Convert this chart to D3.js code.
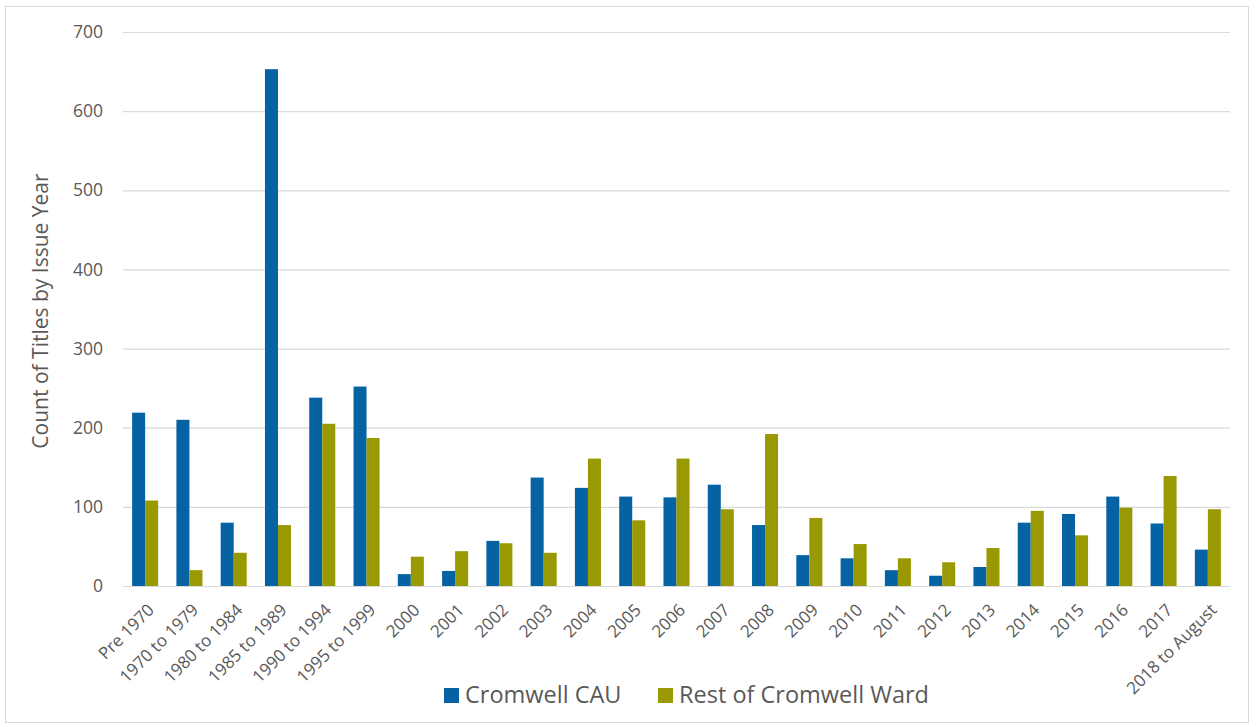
<!DOCTYPE html>
<html>
<head>
<meta charset="utf-8">
<script src="https://cdn.jsdelivr.net/npm/d3@7"></script>
<style>
  html, body { margin: 0; padding: 0; background: #fff; }
  svg { display: block; font-family: "Open Sans", "Noto Sans", sans-serif; }
</style>
</head>
<body>
<svg id="chart" width="1256" height="727"></svg>
<script>
// Issue-year groups
const categories = [
  "Pre 1970", "1970 to 1979", "1980 to 1984", "1985 to 1989", "1990 to 1994",
  "1995 to 1999", "2000", "2001", "2002", "2003", "2004", "2005", "2006",
  "2007", "2008", "2009", "2010", "2011", "2012", "2013", "2014", "2015",
  "2016", "2017", "2018 to August"
];

const seriesNames = ["Cromwell CAU", "Rest of Cromwell Ward"];

const cromwellCAU = [
  219, 210, 80, 653, 238, 252, 15, 19, 57, 137, 124, 113, 112,
  128, 77, 39, 35, 20, 13, 24, 80, 91, 113, 79, 46
];

const restOfWard = [
  108, 20, 42, 77, 205, 187, 37, 44, 54, 42, 161, 83, 161,
  97, 192, 86, 53, 35, 30, 48, 95, 64, 99, 139, 97
];

const yTicks = [0, 100, 200, 300, 400, 500, 600, 700];

const colors = { "Cromwell CAU": "#0563a3", "Rest of Cromwell Ward": "#999a03" };
const textColor = "#595959";
const gridColor = "#d9d9d9";

const rows = categories.map((c, i) => ({
  category: c,
  values: [
    { key: seriesNames[0], value: cromwellCAU[i] },
    { key: seriesNames[1], value: restOfWard[i] }
  ]
}));

const svg = d3.select("#chart");

// Outer chart frame
svg.append("rect")
  .attr("x", 5.5).attr("y", 6.5)
  .attr("width", 1243).attr("height", 716)
  .attr("fill", "none").attr("stroke", gridColor).attr("stroke-width", 1);

const plot = { left: 123, right: 1230, top: 32, bottom: 586 };

const x0 = d3.scaleBand().domain(categories).range([plot.left, plot.right]).padding(0);
const x1 = d3.scaleBand().domain(seriesNames).range([0, x0.bandwidth()])
  .paddingInner(0).paddingOuter(0.7);
const y = d3.scaleLinear().domain([0, 700]).range([plot.bottom, plot.top]);

// Horizontal gridlines and value axis labels
const yAxis = d3.axisLeft(y).tickValues(yTicks).tickSize(-(plot.right - plot.left)).tickPadding(20);
const gy = svg.append("g").attr("transform", `translate(${plot.left},0)`).call(yAxis);
gy.select(".domain").remove();
gy.selectAll(".tick line").attr("stroke", gridColor).attr("stroke-width", 1.2);
gy.selectAll(".tick text")
  .attr("fill", textColor).attr("font-size", 17.5)
  .attr("font-family", "'Open Sans', sans-serif");

// Bars
const groups = svg.append("g").selectAll("g")
  .data(rows).join("g")
  .attr("transform", d => `translate(${x0(d.category)},0)`);

groups.selectAll("rect")
  .data(d => d.values).join("rect")
  .attr("x", d => x1(d.key))
  .attr("y", d => y(d.value))
  .attr("width", x1.bandwidth())
  .attr("height", d => y(0) - y(d.value))
  .attr("fill", d => colors[d.key]);

// Category axis
const xAxis = d3.axisBottom(x0).tickSize(0).tickPadding(0);
const gx = svg.append("g").attr("transform", `translate(0,${plot.bottom})`).call(xAxis);
gx.select(".domain").attr("stroke", gridColor).attr("stroke-width", 1.2);
gx.selectAll(".tick text")
  .attr("fill", textColor).attr("font-size", 17)
  .attr("font-family", "'Open Sans', sans-serif")
  .attr("text-anchor", "end")
  .attr("dy", null)
  .attr("y", 0)
  .attr("transform", "translate(10,25) rotate(-45)");

// Value axis title
svg.append("text")
  .attr("transform", `translate(48,${(plot.top + plot.bottom) / 2 + 2}) rotate(-90)`)
  .attr("text-anchor", "middle")
  .attr("fill", textColor)
  .attr("font-size", 21)
  .text("Count of Titles by Issue Year");

// Legend
const legendItems = [
  { key: seriesNames[0], x: 444 },
  { key: seriesNames[1], x: 658 }
];
const lg = svg.append("g").selectAll("g").data(legendItems).join("g")
  .attr("transform", d => `translate(${d.x},688)`);
lg.append("rect").attr("width", 15).attr("height", 15).attr("fill", d => colors[d.key]);
lg.append("text")
  .attr("x", 21).attr("y", 14.5)
  .attr("fill", textColor).attr("font-size", 23.5)
  .text(d => d.key);
</script>
</body>
</html>
